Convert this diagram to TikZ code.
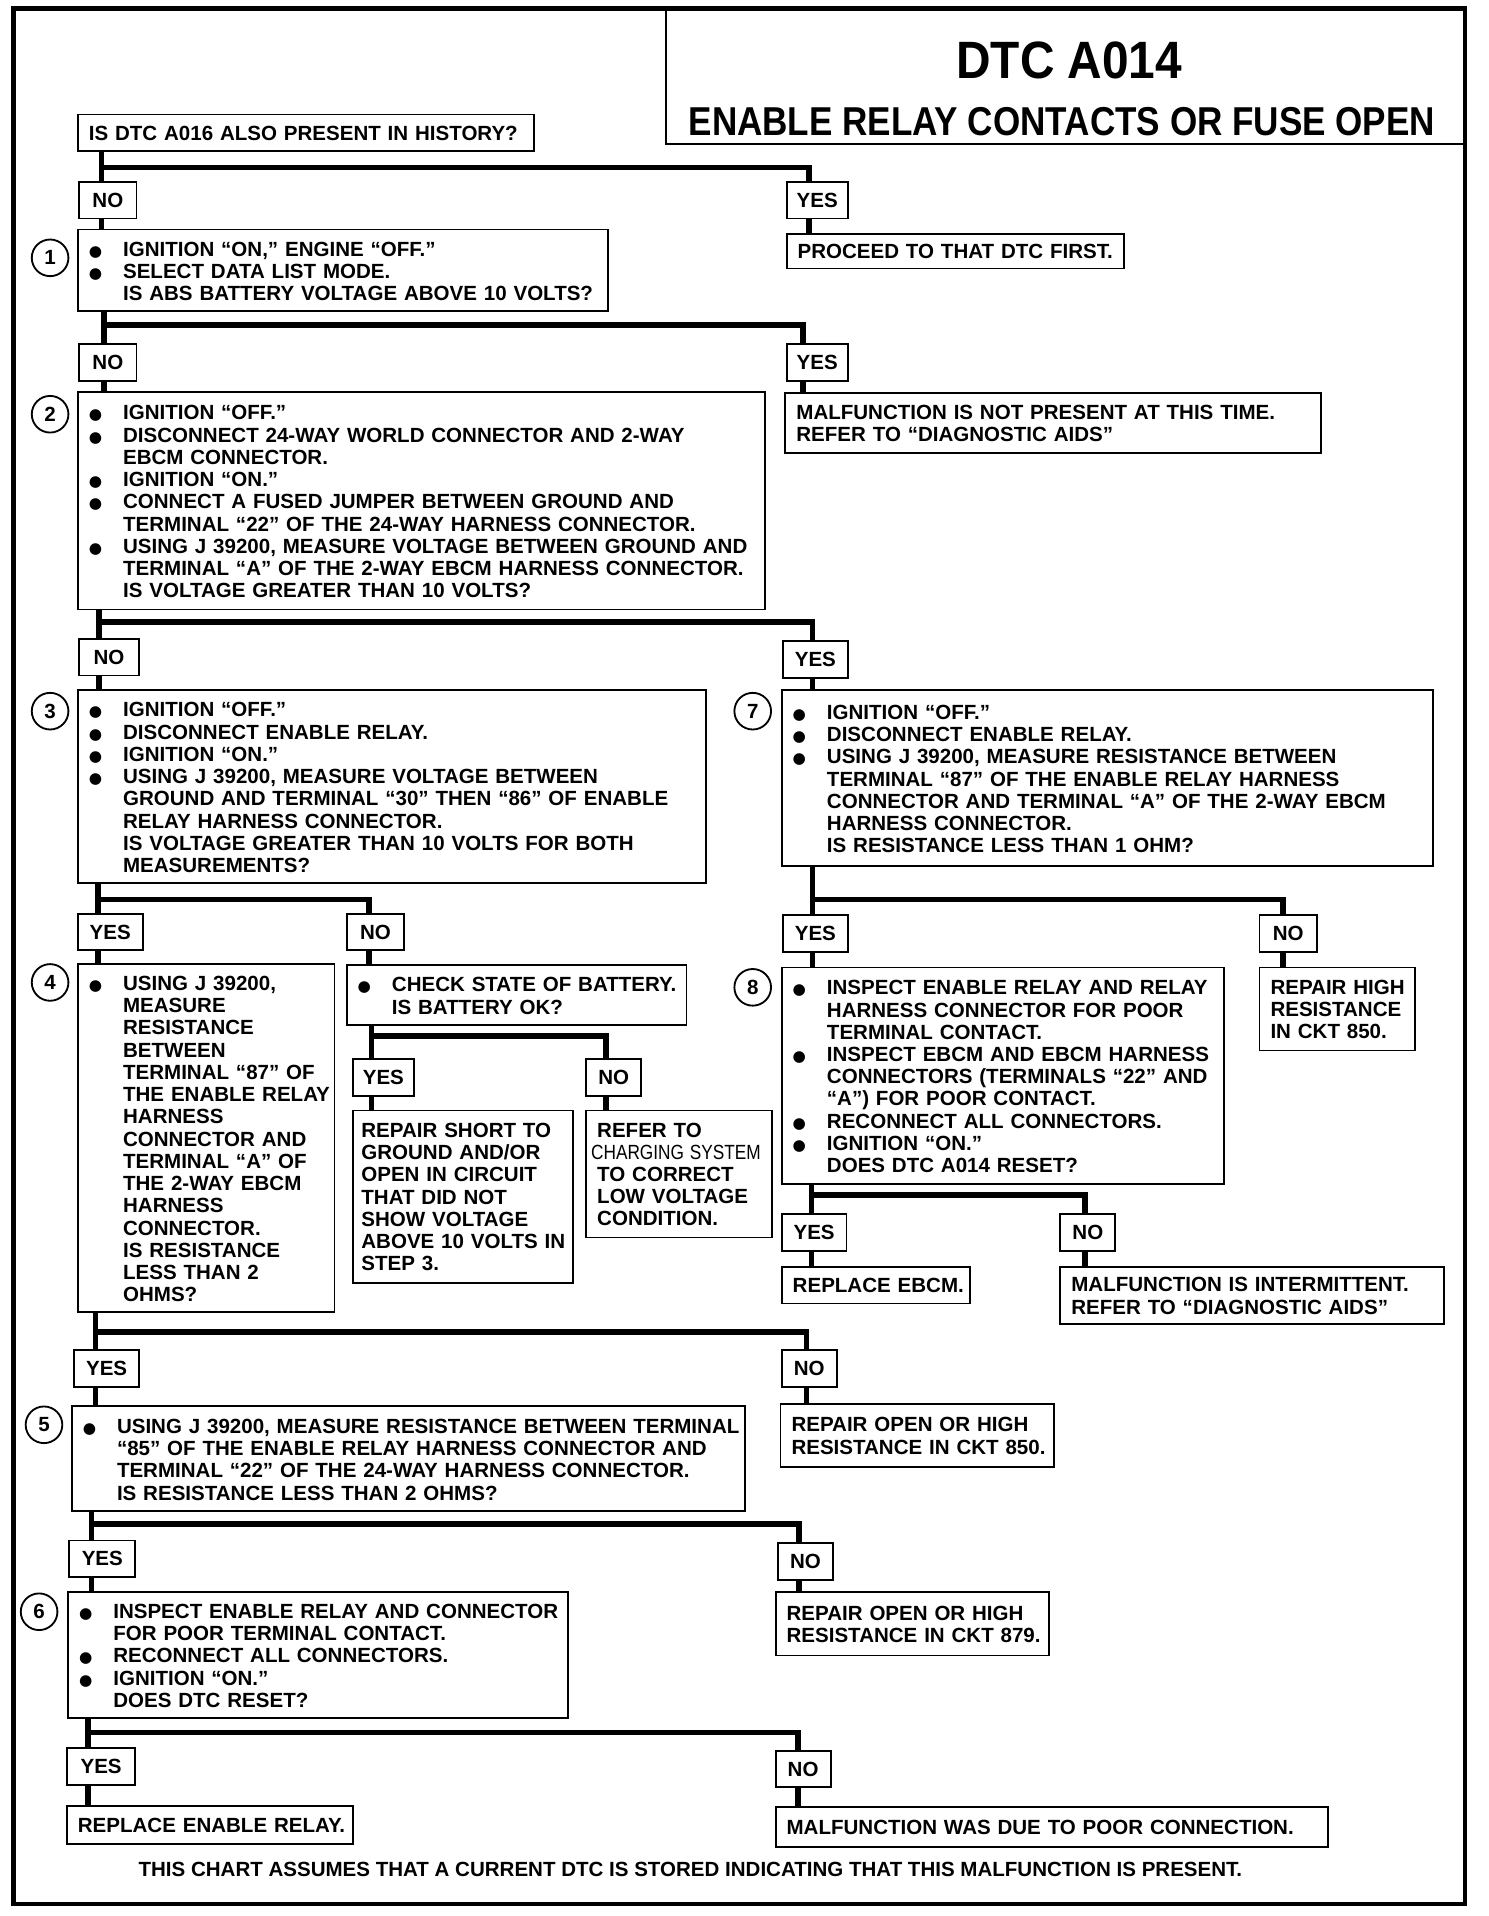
\documentclass[tikz,border=0pt]{standalone}
\usepackage{fontspec}
\setmainfont{Liberation Sans}
\newfontfamily\dejavu{DejaVu Sans}
\usepackage{graphicx}
\newcommand\blt{{\dejavu\fontsize{12.5}{12}\selectfont ●}}
\newcommand\BL[1]{\raisebox{-3pt}[\height][\depth]{\begin{tabular}{@{}p{28pt}@{}l@{}}#1\end{tabular}}}
\newcommand\TL[1]{\raisebox{-2.5pt}[\height][\depth]{\begin{tabular}{@{}l@{}}#1\end{tabular}}}
\newcommand\bodyfont{\bfseries\fontsize{16.8}{18.2}\selectfont}
\begin{document}
\begin{tikzpicture}[x=1pt,y=-1pt,
  box/.style={draw, line width=1.5pt, anchor=north west, inner xsep=9pt, inner ysep=0pt, align=left, font=\bodyfont},
  lbl/.style={draw, line width=1.5pt, anchor=north west, inner sep=0pt, minimum height=30pt, font=\bodyfont},
  num/.style={circle, draw, line width=1.5pt, minimum size=30pt, inner sep=0pt, font=\bodyfont},
  conn/.style={line width=4.5pt, line join=miter}]
\useasboundingbox (0,0) rectangle (1218,1568);
% frame and title
\draw[line width=3.5pt] (11,7) rectangle (1199,1558);
\draw[line width=2pt] (545,7) -- (545,118) -- (1199,118);
\node[anchor=base, font=\bfseries\fontsize{43}{43}\selectfont] (ttl) at (875,64) {\scalebox{0.91}[1]{DTC A014}};
\node[anchor=base, font=\bfseries\fontsize{33}{33}\selectfont] (sub) at (869,111) {\scalebox{0.87}[1]{ENABLE RELAY CONTACTS OR FUSE OPEN}};
\node[anchor=base, font=\bodyfont] (foot) at (565,1536) {THIS CHART ASSUMES THAT A CURRENT DTC IS STORED INDICATING THAT THIS MALFUNCTION IS PRESENT.};

% row 0/1
\node[box, text width=355pt, minimum height=30pt] (q0) at (63,93) {\TL{IS DTC A016 ALSO PRESENT IN HISTORY?}};
\node[lbl, minimum width=47pt] (no1) at (64,148) {NO};
\node[lbl, minimum width=50pt] (yes1) at (643,148) {YES};
\node[box, text width=416pt, minimum height=67pt] (s1) at (63,187) {\BL{\blt & IGNITION “ON,” ENGINE “OFF.”\\ \blt & SELECT DATA LIST MODE.\\ & IS ABS BATTERY VOLTAGE ABOVE 10 VOLTS?}};
\node[num] (c1) at (41,211) {1};
\node[box, text width=258pt, minimum height=28pt] (r1) at (643,191) {\TL{PROCEED TO THAT DTC FIRST.}};

% row 2
\node[lbl, minimum width=47pt] (no2) at (64,281) {NO};
\node[lbl, minimum width=50pt] (yes2) at (643,281) {YES};
\node[box, text width=544pt, minimum height=178pt] (s2) at (63,320) {\BL{\blt & IGNITION “OFF.”\\ \blt & DISCONNECT 24-WAY WORLD CONNECTOR AND 2-WAY\\ & EBCM CONNECTOR.\\ \blt & IGNITION “ON.”\\ \blt & CONNECT A FUSED JUMPER BETWEEN GROUND AND\\ & TERMINAL “22” OF THE 24-WAY HARNESS CONNECTOR.\\ \blt & USING J 39200, MEASURE VOLTAGE BETWEEN GROUND AND\\ & TERMINAL “A” OF THE 2-WAY EBCM HARNESS CONNECTOR.\\ & IS VOLTAGE GREATER THAN 10 VOLTS?}};
\node[num] (c2) at (41,339) {2};
\node[box, text width=420pt, minimum height=49pt] (r2) at (642,321) {\TL{MALFUNCTION IS NOT PRESENT AT THIS TIME.\\ REFER TO “DIAGNOSTIC AIDS”}};

% row 3
\node[lbl, minimum width=49pt] (no3) at (64,522) {NO};
\node[lbl, minimum width=53pt] (yes3) at (640,524) {YES};
\node[box, text width=496pt, minimum height=158pt] (s3) at (63,564) {\BL{\blt & IGNITION “OFF.”\\ \blt & DISCONNECT ENABLE RELAY.\\ \blt & IGNITION “ON.”\\ \blt & USING J 39200, MEASURE VOLTAGE BETWEEN\\ & GROUND AND TERMINAL “30” THEN “86” OF ENABLE\\ & RELAY HARNESS CONNECTOR.\\ & IS VOLTAGE GREATER THAN 10 VOLTS FOR BOTH\\ & MEASUREMENTS?}};
\node[num] (c3) at (41,582) {3};
\node[box, text width=515pt, minimum height=144pt] (s7) at (639,564) {\BL{\blt & IGNITION “OFF.”\\ \blt & DISCONNECT ENABLE RELAY.\\ \blt & USING J 39200, MEASURE RESISTANCE BETWEEN\\ & TERMINAL “87” OF THE ENABLE RELAY HARNESS\\ & CONNECTOR AND TERMINAL “A” OF THE 2-WAY EBCM\\ & HARNESS CONNECTOR.\\ & IS RESISTANCE LESS THAN 1 OHM?}};
\node[num] (c7) at (616,582) {7};

% row 4 left
\node[lbl, minimum width=53pt] (yes4) at (63,747) {YES};
\node[lbl, minimum width=47pt] (no4) at (283,747) {NO};
\node[box, text width=192pt, minimum height=285pt] (s4) at (63,788) {\BL{\blt & USING J 39200,\\ & MEASURE\\ & RESISTANCE\\ & BETWEEN\\ & TERMINAL “87” OF\\ & THE ENABLE RELAY\\ & HARNESS\\ & CONNECTOR AND\\ & TERMINAL “A” OF\\ & THE 2-WAY EBCM\\ & HARNESS\\ & CONNECTOR.\\ & IS RESISTANCE\\ & LESS THAN 2\\ & OHMS?}};
\node[num] (c4) at (41,804) {4};
\node[box, text width=260pt, minimum height=49pt] (bat) at (283,789) {\BL{\blt & CHECK STATE OF BATTERY.\\ & IS BATTERY OK?}};
\node[lbl, minimum width=50pt] (yes5) at (288,866) {YES};
\node[lbl, minimum width=45pt] (no5) at (479,866) {NO};
\node[box, text width=166pt, minimum height=141pt, inner xsep=7pt] (rs) at (288,908) {\TL{REPAIR SHORT TO\\ GROUND AND/OR\\ OPEN IN CIRCUIT\\ THAT DID NOT\\ SHOW VOLTAGE\\ ABOVE 10 VOLTS IN\\ STEP 3.}};
\node[box, text width=134pt, minimum height=104pt] (rf) at (479,908) {\TL{REFER TO\\ \hspace*{-5pt}{\mdseries\scalebox{0.84}[1]{CHARGING SYSTEM}}\\ TO CORRECT\\ LOW VOLTAGE\\ CONDITION.}};

% row 4 right
\node[lbl, minimum width=53pt] (yes6) at (640,748) {YES};
\node[lbl, minimum width=47pt] (no6) at (1030,748) {NO};
\node[box, text width=344pt, minimum height=177pt] (s8) at (639,791) {\BL{\blt & INSPECT ENABLE RELAY AND RELAY\\ & HARNESS CONNECTOR FOR POOR\\ & TERMINAL CONTACT.\\ \blt & INSPECT EBCM AND EBCM HARNESS\\ & CONNECTORS (TERMINALS “22” AND\\ & “A”) FOR POOR CONTACT.\\ \blt & RECONNECT ALL CONNECTORS.\\ \blt & IGNITION “ON.”\\ & DOES DTC A014 RESET?}};
\node[num] (c8) at (616,808) {8};
\node[box, text width=109pt, minimum height=68pt] (rh) at (1030,791) {\TL{REPAIR HIGH\\ RESISTANCE\\ IN CKT 850.}};
\node[lbl, minimum width=53pt] (yes7) at (639,993) {YES};
\node[lbl, minimum width=45pt] (no7) at (867,993) {NO};
\node[box, text width=136pt, minimum height=30pt] (re) at (639,1036) {\TL{REPLACE EBCM.}};
\node[box, text width=296pt, minimum height=47pt] (mi) at (867,1036) {\TL{MALFUNCTION IS INTERMITTENT.\\ REFER TO “DIAGNOSTIC AIDS”}};

% row 5
\node[lbl, minimum width=53pt] (yes8) at (60,1104) {YES};
\node[lbl, minimum width=45pt] (no8) at (639,1104) {NO};
\node[box, text width=533pt, minimum height=86pt] (s5) at (58,1150) {\BL{\blt & USING J 39200, MEASURE RESISTANCE BETWEEN TERMINAL\\ & “85” OF THE ENABLE RELAY HARNESS CONNECTOR AND\\ & TERMINAL “22” OF THE 24-WAY HARNESS CONNECTOR.\\ & IS RESISTANCE LESS THAN 2 OHMS?}};
\node[num] (c5) at (36,1166) {5};
\node[box, text width=206pt, minimum height=52pt] (ro1) at (638,1148) {\TL{REPAIR OPEN OR HIGH\\ RESISTANCE IN CKT 850.}};

% row 6
\node[lbl, minimum width=54pt] (yes9) at (56,1260) {YES};
\node[lbl, minimum width=45pt] (no9) at (636,1262) {NO};
\node[box, text width=391pt, minimum height=103pt] (s6) at (55,1302) {\BL{\blt & INSPECT ENABLE RELAY AND CONNECTOR\\ & FOR POOR TERMINAL CONTACT.\\ \blt & RECONNECT ALL CONNECTORS.\\ \blt & IGNITION “ON.”\\ & DOES DTC RESET?}};
\node[num] (c6) at (32,1319) {6};
\node[box, text width=206pt, minimum height=52pt] (ro2) at (634,1302) {\TL{REPAIR OPEN OR HIGH\\ RESISTANCE IN CKT 879.}};

% row 7
\node[lbl, minimum width=56pt] (yes10) at (54,1430) {YES};
\node[lbl, minimum width=45pt] (no10) at (634,1432) {NO};
\node[box, text width=216pt, minimum height=31pt] (rr) at (54,1477) {\TL{REPLACE ENABLE RELAY.}};
\node[box, text width=434pt, minimum height=33pt] (mw) at (634,1478) {\TL{MALFUNCTION WAS DUE TO POOR CONNECTION.}};

% connectors
% q0
\coordinate (k1) at ([xshift=19pt]no1.north west);
\coordinate (m1) at ([xshift=19pt]yes1.north west);
\draw[conn] (q0.south -| k1) -- (k1);
\draw[conn] (k1 |- 0,137) -| (m1);
\draw[conn] (no1.south -| k1) -- (s1.north -| k1);
\draw[conn] (yes1.south -| m1) -- (r1.north -| m1);
% s1
\coordinate (k2) at ([xshift=21pt]no2.north west);
\coordinate (m2) at ([xshift=14pt]yes2.north west);
\draw[conn] (s1.south -| k2) -- (k2);
\draw[conn] (k2 |- 0,266) -| (m2);
\draw[conn] (no2.south -| k2) -- (s2.north -| k2);
\draw[conn] (yes2.south -| m2) -- (r2.north -| m2);
% s2
\coordinate (k3) at ([xshift=17pt]no3.north west);
\coordinate (m3) at ([xshift=25pt]yes3.north west);
\draw[conn] (s2.south -| k3) -- (k3);
\draw[conn] (k3 |- 0,509) -| (m3);
\draw[conn] (no3.south -| k3) -- (s3.north -| k3);
\draw[conn] (yes3.south -| m3) -- (s7.north -| m3);
% s3
\coordinate (k4) at ([xshift=17pt]yes4.north west);
\coordinate (m4) at ([xshift=19pt]no4.north west);
\draw[conn] (s3.south -| k4) -- (k4);
\draw[conn] (k4 |- 0,736) -| (m4);
\draw[conn] (yes4.south -| k4) -- (s4.north -| k4);
\draw[conn] (no4.south -| m4) -- (bat.north -| m4);
% battery
\coordinate (k5) at ([xshift=16pt]yes5.north west);
\coordinate (m5) at ([xshift=17pt]no5.north west);
\draw[conn] (bat.south -| k5) -- (k5);
\draw[conn] (k5 |- 0,848) -| (m5);
\draw[conn] (yes5.south -| k5) -- (rs.north -| k5);
\draw[conn] (no5.south -| m5) -- (rf.north -| m5);
% s7
\coordinate (k6) at ([xshift=25pt]yes6.north west);
\coordinate (m6) at ([xshift=20pt]no6.north west);
\draw[conn] (s7.south -| k6) -- (k6);
\draw[conn] (k6 |- 0,736) -| (m6);
\draw[conn] (yes6.south -| k6) -- (s8.north -| k6);
\draw[conn] (no6.south -| m6) -- (rh.north -| m6);
% s8
\coordinate (k7) at ([xshift=25pt]yes7.north west);
\coordinate (m7) at ([xshift=21pt]no7.north west);
\draw[conn] (s8.south -| k7) -- (k7);
\draw[conn] (k7 |- 0,978) -| (m7);
\draw[conn] (yes7.south -| k7) -- (re.north -| k7);
\draw[conn] (no7.south -| m7) -- (mi.north -| m7);
% s4
\coordinate (k8) at ([xshift=18pt]yes8.north west);
\coordinate (m8) at ([xshift=21pt]no8.north west);
\draw[conn] (s4.south -| k8) -- (k8);
\draw[conn] (k8 |- 0,1090) -| (m8);
\draw[conn] (yes8.south -| k8) -- (s5.north -| k8);
\draw[conn] (no8.south -| m8) -- (ro1.north -| m8);
% s5
\coordinate (k9) at ([xshift=19pt]yes9.north west);
\coordinate (m9) at ([xshift=18pt]no9.north west);
\draw[conn] (s5.south -| k9) -- (k9);
\draw[conn] (k9 |- 0,1247) -| (m9);
\draw[conn] (yes9.south -| k9) -- (s6.north -| k9);
\draw[conn] (no9.south -| m9) -- (ro2.north -| m9);
% s6
\coordinate (k10) at ([xshift=18pt]yes10.north west);
\coordinate (m10) at ([xshift=19pt]no10.north west);
\draw[conn] (s6.south -| k10) -- (k10);
\draw[conn] (k10 |- 0,1418) -| (m10);
\draw[conn] (yes10.south -| k10) -- (rr.north -| k10);
\draw[conn] (no10.south -| m10) -- (mw.north -| m10);
\end{tikzpicture}
\end{document}
